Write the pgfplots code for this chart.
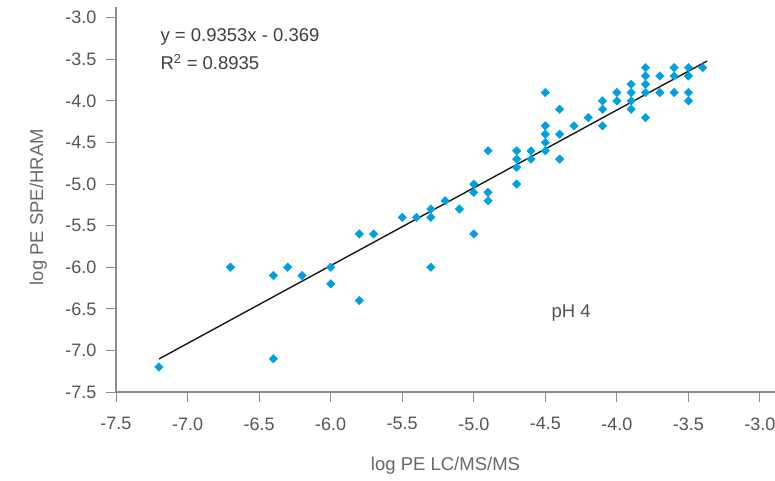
\documentclass[border=0pt]{standalone}
\usepackage{fontspec}
\setmainfont{Liberation Sans}
\usepackage{pgfplots}
\pgfplotsset{compat=1.18}
\definecolor{pt}{RGB}{0,158,226}
\definecolor{axgray}{RGB}{140,140,140}
\definecolor{tickgray}{RGB}{85,85,85}
\definecolor{labgray}{RGB}{105,105,105}
\definecolor{eqgray}{RGB}{64,64,64}
\pgfplotstableread{
x y
-7.2 -7.2
-6.7 -6.0
-6.4 -6.1
-6.4 -7.1
-6.3 -6.0
-6.2 -6.1
-6.0 -6.0
-6.0 -6.2
-5.8 -5.6
-5.8 -6.4
-5.7 -5.6
-5.5 -5.4
-5.4 -5.4
-5.3 -5.3
-5.3 -5.4
-5.3 -6.0
-5.2 -5.2
-5.1 -5.3
-5.0 -5.0
-5.0 -5.1
-5.0 -5.6
-4.9 -4.6
-4.9 -5.1
-4.9 -5.2
-4.7 -4.6
-4.7 -4.7
-4.7 -4.8
-4.7 -5.0
-4.6 -4.6
-4.6 -4.7
-4.5 -3.9
-4.5 -4.3
-4.5 -4.4
-4.5 -4.5
-4.5 -4.6
-4.4 -4.1
-4.4 -4.4
-4.4 -4.7
-4.3 -4.3
-4.2 -4.2
-4.1 -4.0
-4.1 -4.1
-4.1 -4.3
-4.0 -3.9
-4.0 -4.0
-3.9 -3.8
-3.9 -3.9
-3.9 -4.0
-3.9 -4.1
-3.8 -3.6
-3.8 -3.7
-3.8 -3.8
-3.8 -3.9
-3.8 -4.2
-3.7 -3.7
-3.7 -3.9
-3.6 -3.6
-3.6 -3.7
-3.6 -3.9
-3.5 -3.6
-3.5 -3.7
-3.5 -3.9
-3.5 -4.0
-3.4 -3.6
}\pts
\begin{document}
\begin{tikzpicture}
\path[use as bounding box] (-116pt,-89pt) rectangle (659pt,392pt);
\begin{axis}[
  at={(0,0)}, anchor=south west,
  scale only axis, width=659pt, height=385pt,
  xmin=-7.5, xmax=-2.895, ymin=-7.5, ymax=-2.871,
  axis x line=bottom, axis y line=left,
  axis line style={-, draw=axgray, line width=1.1pt},
  tick align=outside, major tick length=10pt,
  tick style={draw=axgray, line width=1pt},
  xtick={-7.5,-7,-6.5,-6,-5.5,-5,-4.5,-4,-3.5,-3},
  xticklabels={-7.5,-7.0,-6.5,-6.0,-5.5,-5.0,-4.5,-4.0,-3.5,-3.0},
  ytick={-7.5,-7,-6.5,-6,-5.5,-5,-4.5,-4,-3.5,-3},
  yticklabels={-7.5,-7.0,-6.5,-6.0,-5.5,-5.0,-4.5,-4.0,-3.5,-3.0},
  ticklabel style={font=\fontsize{18}{20}\selectfont, text=tickgray},
  xticklabel style={yshift=-12pt},
  yticklabel style={xshift=-6pt},
  xlabel={log PE LC/MS/MS}, ylabel={log PE SPE/HRAM},
  label style={font=\fontsize{18.5}{20}\selectfont, text=labgray},
  xlabel style={at={(axis description cs:0.5,-0.1922)}, anchor=center},
  ylabel style={at={(axis description cs:-0.118,0.48)}, anchor=center},
  clip=false,
]
\addplot[only marks, mark=square*, mark size=3pt, mark options={rotate=45, fill=pt, draw=pt}] table {\pts};
\addplot[black!90, line width=1.4pt] coordinates {(-7.2,-7.103) (-3.37,-3.521)};
\node[anchor=west, inner sep=0pt, font=\fontsize{18.5}{20}\selectfont, text=eqgray] at (axis cs:-7.19,-3.23) {y = 0.9353x - 0.369};
\node[anchor=west, inner sep=0pt, font=\fontsize{18.5}{20}\selectfont, text=eqgray] at (axis cs:-7.19,-3.53) {R\textsuperscript{2} = 0.8935};
\node[anchor=center, inner sep=0pt, font=\fontsize{18.5}{20}\selectfont, text=tickgray] at (axis cs:-4.32,-6.55) {pH 4};
\end{axis}
\end{tikzpicture}
\end{document}
